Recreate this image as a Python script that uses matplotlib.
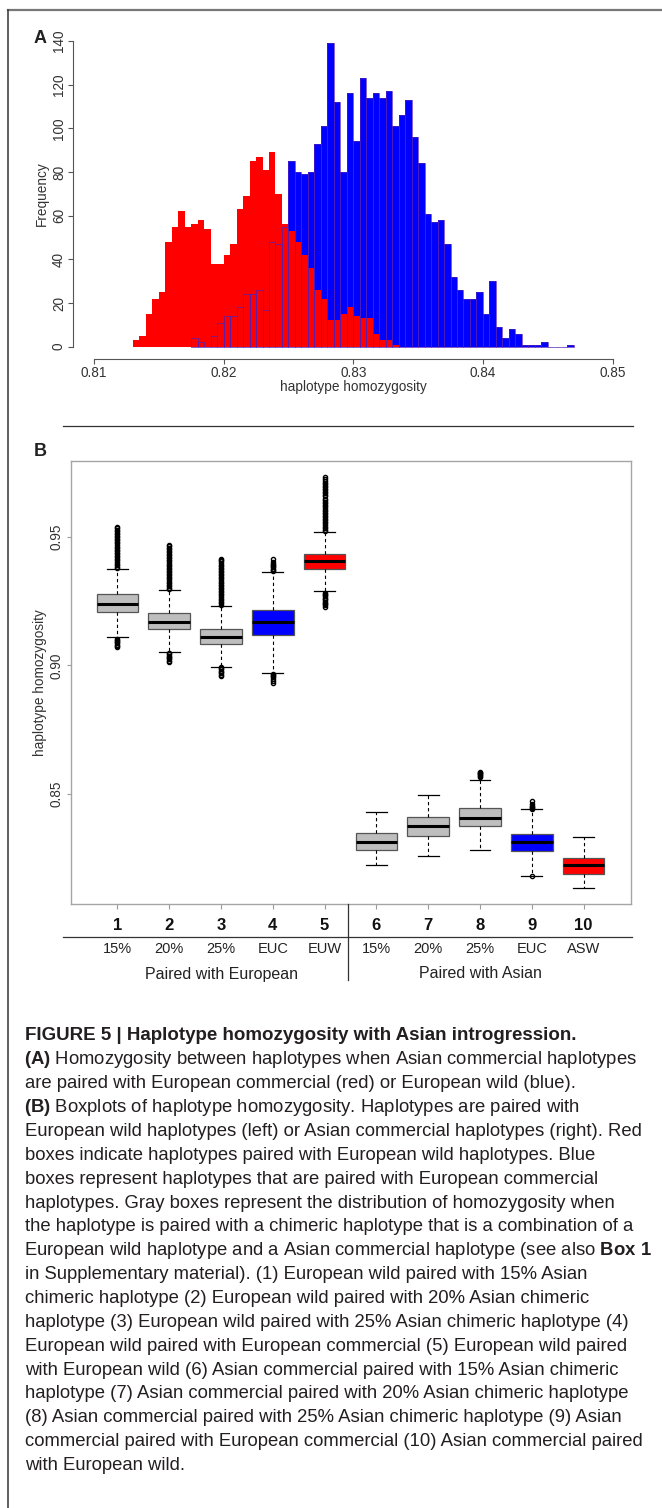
import numpy as np
import matplotlib
matplotlib.use('Agg')
import matplotlib.pyplot as plt
from matplotlib.lines import Line2D
from matplotlib.transforms import blended_transform_factory

plt.rcParams['font.family'] = ['Liberation Sans', 'DejaVu Sans']
plt.rcParams['mathtext.fontset'] = 'custom'
plt.rcParams['mathtext.rm'] = 'Liberation Sans'
plt.rcParams['mathtext.bf'] = 'Liberation Sans:bold'

# Panel A - histogram counts (bin width 0.0005)
bin_width = 0.0005
red_start = 0.813
red_counts = [3, 5, 15, 22, 25, 48, 55, 62, 55, 56, 58, 54, 38, 38, 42, 47, 63, 69, 85, 87,
              81, 89, 70, 56, 53, 48, 42, 36, 26, 22, 12, 12, 15, 18, 14, 13, 13, 6, 3, 3, 1]
blue_start = 0.8175
blue_counts = [4, 2, 0, 5, 11, 14, 14, 18, 24, 24, 26, 17, 48, 47, 55,
               85, 80, 79, 80, 93, 101, 139, 112, 80, 116, 94, 123, 114, 116, 114,
               117, 101, 106, 113, 96, 84, 61, 57, 58, 47, 32, 26, 22, 22, 25,
               15, 30, 9, 4, 8, 6, 1, 1, 1, 2, 0, 0, 0, 1]
hist_xticks = [0.81, 0.82, 0.83, 0.84, 0.85]
hist_yticks = [0, 20, 40, 60, 80, 100, 120, 140]

# Panel B - boxplot statistics
box_numbers = ['1', '2', '3', '4', '5', '6', '7', '8', '9', '10']
box_sub = ['15%', '20%', '25%', 'EUC', 'EUW', '15%', '20%', '25%', 'EUC', 'ASW']
groups = ['Paired with European', 'Paired with Asian']
whis_lo = [0.9111, 0.9051, 0.8995, 0.8971, 0.9289, 0.8225, 0.8258, 0.8283, 0.8180, 0.8135]
q1 = [0.9208, 0.9140, 0.9083, 0.9118, 0.9374, 0.8283, 0.8335, 0.8374, 0.8278, 0.8187]
med = [0.9238, 0.9167, 0.9109, 0.9167, 0.9404, 0.8315, 0.8374, 0.8408, 0.8313, 0.8225]
q3 = [0.9276, 0.9202, 0.9141, 0.9215, 0.9433, 0.8347, 0.8410, 0.8447, 0.8343, 0.8249]
whis_hi = [0.9373, 0.9292, 0.9232, 0.9362, 0.9518, 0.8431, 0.8494, 0.8554, 0.8440, 0.8333]
fliers = [
    [0.9072, 0.9076, 0.9081, 0.9086, 0.9090, 0.9095, 0.9100, 0.9104,
     0.9378, 0.9384, 0.9390, 0.9396, 0.9402, 0.9408, 0.9414, 0.9420, 0.9426, 0.9432,
     0.9438, 0.9444, 0.9450, 0.9456, 0.9462, 0.9468, 0.9474, 0.9480, 0.9486, 0.9492,
     0.9498, 0.9504, 0.9510, 0.9516, 0.9522, 0.9528, 0.9533, 0.9537],
    [0.9014, 0.9018, 0.9023, 0.9028, 0.9033, 0.9038, 0.9043, 0.9047,
     0.9296, 0.9302, 0.9308, 0.9314, 0.9320, 0.9326, 0.9332, 0.9338, 0.9344, 0.9350,
     0.9356, 0.9362, 0.9368, 0.9374, 0.9380, 0.9386, 0.9392, 0.9398, 0.9404, 0.9410,
     0.9416, 0.9422, 0.9428, 0.9434, 0.9440, 0.9446, 0.9452, 0.9458, 0.9463, 0.9468],
    [0.8960, 0.8964, 0.8969, 0.8974, 0.8979, 0.8984, 0.8988, 0.8992,
     0.9236, 0.9242, 0.9248, 0.9254, 0.9260, 0.9266, 0.9272, 0.9278, 0.9284, 0.9290,
     0.9296, 0.9302, 0.9308, 0.9314, 0.9320, 0.9326, 0.9332, 0.9338, 0.9344, 0.9350,
     0.9356, 0.9362, 0.9368, 0.9374, 0.9380, 0.9386, 0.9392, 0.9398, 0.9404, 0.9409, 0.9412],
    [0.8932, 0.8940, 0.8948, 0.8953, 0.8958, 0.8962, 0.8966,
     0.9366, 0.9371, 0.9376, 0.9381, 0.9386, 0.9391, 0.9396, 0.9401, 0.9413],
    [0.9228, 0.9233, 0.9238, 0.9243, 0.9248, 0.9253, 0.9258, 0.9263, 0.9268, 0.9273,
     0.9278, 0.9282,
     0.9522, 0.9528, 0.9534, 0.9540, 0.9546, 0.9552, 0.9558, 0.9564, 0.9570, 0.9576,
     0.9582, 0.9588, 0.9594, 0.9600, 0.9606, 0.9612, 0.9618, 0.9624, 0.9630, 0.9636,
     0.9642, 0.9648, 0.9657, 0.9663, 0.9669, 0.9675, 0.9681, 0.9687, 0.9693, 0.9699,
     0.9705, 0.9711, 0.9717, 0.9724, 0.9733],
    [],
    [],
    [0.8564, 0.8568, 0.8572, 0.8576, 0.8580, 0.8583, 0.8586],
    [0.8180, 0.8443, 0.8447, 0.8451, 0.8455, 0.8459, 0.8472],
    [],
]
box_colors = ['#BEBEBE', '#BEBEBE', '#BEBEBE', '#0000FF', '#FF0000',
              '#BEBEBE', '#BEBEBE', '#BEBEBE', '#0000FF', '#FF0000']
box_yticks = [0.85, 0.90, 0.95]

caption_title = 'FIGURE 5 | Haplotype homozygosity with Asian introgression.'
caption_lines = [
    r'$\mathbf{(A)}$ Homozygosity between haplotypes when Asian commercial haplotypes',
    'are paired with European commercial (red) or European wild (blue).',
    r'$\mathbf{(B)}$ Boxplots of haplotype homozygosity. Haplotypes are paired with',
    'European wild haplotypes (left) or Asian commercial haplotypes (right). Red',
    'boxes indicate haplotypes paired with European wild haplotypes. Blue',
    'boxes represent haplotypes that are paired with European commercial',
    'haplotypes. Gray boxes represent the distribution of homozygosity when',
    'the haplotype is paired with a chimeric haplotype that is a combination of a',
    r'European wild haplotype and a Asian commercial haplotype (see also $\mathbf{Box\ 1}$',
    'in Supplementary material). (1) European wild paired with 15% Asian',
    'chimeric haplotype (2) European wild paired with 20% Asian chimeric',
    'haplotype (3) European wild paired with 25% Asian chimeric haplotype (4)',
    'European wild paired with European commercial (5) European wild paired',
    'with European wild (6) Asian commercial paired with 15% Asian chimeric',
    'haplotype (7) Asian commercial paired with 20% Asian chimeric haplotype',
    '(8) Asian commercial paired with 25% Asian chimeric haplotype (9) Asian',
    'commercial paired with European commercial (10) Asian commercial paired',
    'with European wild.',
]

W, H = 662, 1508


def fx(x):
    return x / W


def fy(y):
    return 1 - y / H


def hline(x0, x1, y, color='#333333', lw=0.9):
    fig.add_artist(Line2D([fx(x0), fx(x1)], [fy(y), fy(y)], color=color, lw=lw,
                          transform=fig.transFigure))


def vline(x, y0, y1, color='#333333', lw=0.9):
    fig.add_artist(Line2D([fx(x), fx(x)], [fy(y0), fy(y1)], color=color, lw=lw,
                          transform=fig.transFigure))


fig = plt.figure(figsize=(W / 100, H / 100), dpi=100)

# frame of the page
hline(8, 662, 10, color='#777777', lw=1.6)
vline(8, 10, 1508, color='#333333', lw=1.1)
hline(63, 633, 426)

# ---------------- Panel A ----------------
ax1 = fig.add_axes([fx(73), fy(359.3), (625 - 73) / W, (359.3 - 35) / H])
red_edges = red_start + bin_width * np.arange(len(red_counts) + 1)
blue_edges = blue_start + bin_width * np.arange(len(blue_counts) + 1)
ax1.stairs(blue_counts, blue_edges, fill=True, color='#0000FF', zorder=1)
ax1.stairs(red_counts, red_edges, fill=True, color='#FF0000', zorder=2)
# blue bar outlines drawn over the red bars
outl = ax1.bar(blue_edges[:-1], blue_counts, width=bin_width, align='edge', fill=False,
               edgecolor='#5020b8', linewidth=0.5, zorder=3)
for r in outl:
    r.set_snap(True)
ax1.set_xlim(0.80838, 0.85096)
ax1.set_ylim(-5.77, 142.75)
ax1.set_xticks(hist_xticks)
ax1.set_xticklabels([f'{v:.2f}' for v in hist_xticks])
ax1.set_yticks(hist_yticks)
for s in ['top', 'right']:
    ax1.spines[s].set_visible(False)
ax1.spines['left'].set_bounds(0, 140)
ax1.spines['bottom'].set_bounds(0.81, 0.85)
for s in ['left', 'bottom']:
    ax1.spines[s].set_color('#555555')
    ax1.spines[s].set_linewidth(0.8)
ax1.tick_params(direction='out', length=3.6, width=0.8, color='#555555',
                labelcolor='#333333', labelsize=9.8)
ax1.tick_params(axis='x', pad=1.5)
ax1.tick_params(axis='y', labelrotation=90, pad=1.5)
plt.setp(ax1.get_yticklabels(), va='center')
ax1.patch.set_alpha(0)
fig.text(fx(42), fy(194), 'Frequency', rotation=90, ha='center', va='center',
         fontsize=9.8, color='#333333')
fig.text(fx(353), fy(387), 'haplotype homozygosity', ha='center', va='center',
         fontsize=9.8, color='#333333')
fig.text(fx(40), fy(38.5), 'A', ha='center', va='center', fontsize=13,
         fontweight='bold', color='#222222')

# ---------------- Panel B ----------------
fig.text(fx(40), fy(451.5), 'B', ha='center', va='center', fontsize=13,
         fontweight='bold', color='#222222')
ax2 = fig.add_axes([fx(71), fy(904), (630.7 - 71) / W, (904 - 460.7) / H])
stats = []
for i in range(len(med)):
    stats.append(dict(med=med[i], q1=q1[i], q3=q3[i], whislo=whis_lo[i],
                      whishi=whis_hi[i], fliers=fliers[i]))
positions = np.arange(1, len(med) + 1)
bp = ax2.bxp(stats, positions=positions, widths=0.8, capwidths=0.4, patch_artist=True,
             boxprops=dict(edgecolor='#555555', linewidth=0.9),
             medianprops=dict(color='black', linewidth=2.2, solid_capstyle='butt'),
             whiskerprops=dict(color='black', linestyle=(0, (3, 2.5)), linewidth=0.8),
             capprops=dict(color='black', linewidth=0.9),
             flierprops=dict(marker='o', markersize=3.0, markerfacecolor='none',
                             markeredgecolor='black', markeredgewidth=1.0))
for patch, c in zip(bp['boxes'], box_colors):
    patch.set_facecolor(c)
ax2.set_xlim(0.104, 10.909)
ax2.set_ylim(0.8072, 0.9796)
ax2.set_xticks(positions)
ax2.set_yticks(box_yticks)
ax2.set_yticklabels([f'{v:.2f}' for v in box_yticks])
for s in ax2.spines.values():
    s.set_color('#a5a5a5')
    s.set_linewidth(1.0)
ax2.tick_params(direction='out', width=0.8, color='#9a9a9a', labelcolor='#333333',
                labelsize=9.8)
ax2.tick_params(axis='x', length=3.6, labelbottom=False)
ax2.tick_params(axis='y', length=3.0, labelrotation=90, pad=2.5)
plt.setp(ax2.get_yticklabels(), va='center')
fig.text(fx(40), fy(682.4), 'haplotype homozygosity', rotation=90, ha='center',
         va='center', fontsize=9.8, color='#333333')

# labels under the boxes
tr = blended_transform_factory(ax2.transData, fig.transFigure)
for p, num, sub in zip(positions, box_numbers, box_sub):
    ax2.text(p, fy(925.4), num, transform=tr, ha='center', va='center',
             fontsize=12, fontweight='bold', color='#111111', clip_on=False)
    ax2.text(p, fy(948.6), sub, transform=tr, ha='center', va='center',
             fontsize=10.5, color='#222222', clip_on=False)
ax2.text(positions[:5].mean(), fy(974), groups[0], transform=tr, ha='center',
         va='center', fontsize=11.5, color='#222222', clip_on=False)
ax2.text(positions[5:].mean(), fy(974), groups[1], transform=tr, ha='center',
         va='center', fontsize=11.5, color='#222222', clip_on=False)
hline(63, 632, 937)
vline(348, 904, 980)

# ---------------- Caption ----------------
fig.canvas.draw()
renderer = fig.canvas.get_renderer()
probe = fig.text(0, 0, caption_lines[3], fontsize=12)
cap_size = 12 * 620.5 / probe.get_window_extent(renderer).width
probe.remove()
probe = fig.text(0, 0, caption_title, fontsize=12, fontweight='bold')
title_size = 12 * 548.7 / probe.get_window_extent(renderer).width
probe.remove()

fig.text(fx(25.3), fy(1034 + 5.5), caption_title, fontsize=title_size,
         fontweight='bold', ha='left', va='baseline', color='#231f20')
for i, line in enumerate(caption_lines):
    x0 = 23.8 if '$' in line else 25.3
    fig.text(fx(x0), fy(1059 + 23.85 * i + 5.5), line, fontsize=cap_size,
             ha='left', va='baseline', color='#231f20')

fig.savefig('out.png', dpi=100)
